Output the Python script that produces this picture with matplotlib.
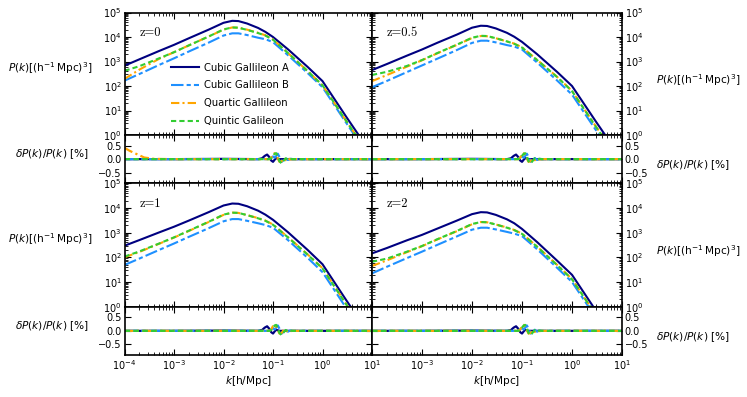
import matplotlib.pyplot as plt
import numpy as np

k = [1e-4, 2e-4, 5e-4, 1e-3, 2e-3, 5e-3, 1e-2, 1.5e-2, 2e-2, 3e-2, 5e-2, 7e-2,
     0.1, 0.2, 0.5, 1.0, 3.0, 10.0]

# log10 P(k) [(Mpc/h)^3] read in decades, one list per model and redshift
logP_A_z0 = [2.83, 3.09, 3.43, 3.68, 3.95, 4.30, 4.58, 4.66, 4.65, 4.55, 4.37, 4.21,
             4.00, 3.50, 2.78, 2.20, 0.75, -0.80]
logP_B_z0 = [2.22, 2.49, 2.86, 3.13, 3.41, 3.77, 4.06, 4.15, 4.15, 4.08, 3.97, 3.91,
             3.79, 3.26, 2.53, 1.95, 0.50, -1.05]
logP_Qa_z0 = [2.29, 2.67, 3.11, 3.38, 3.66, 4.02, 4.30, 4.39, 4.38, 4.30, 4.17, 4.07,
              3.90, 3.35, 2.61, 2.03, 0.58, -0.97]
logP_Qi_z0 = [2.62, 2.81, 3.13, 3.38, 3.66, 4.02, 4.31, 4.39, 4.38, 4.29, 4.16, 4.06,
              3.89, 3.35, 2.61, 2.03, 0.58, -0.97]

logP_A_z05 = [2.65, 2.90, 3.24, 3.49, 3.76, 4.10, 4.38, 4.46, 4.45, 4.35, 4.17, 4.01,
              3.80, 3.30, 2.58, 2.00, 0.55, -1.00]
logP_B_z05 = [1.95, 2.21, 2.57, 2.84, 3.11, 3.47, 3.76, 3.85, 3.85, 3.78, 3.67, 3.61,
              3.49, 2.96, 2.23, 1.65, 0.20, -1.35]
logP_Qa_z05 = [2.20, 2.45, 2.79, 3.05, 3.33, 3.68, 3.96, 4.04, 4.03, 3.95, 3.82, 3.73,
               3.58, 3.07, 2.38, 1.80, 0.35, -1.20]
logP_Qi_z05 = [2.45, 2.58, 2.82, 3.06, 3.34, 3.69, 3.97, 4.05, 4.04, 3.95, 3.82, 3.72,
               3.57, 3.06, 2.37, 1.79, 0.34, -1.21]

logP_A_z1 = [2.47, 2.70, 3.01, 3.24, 3.49, 3.83, 4.10, 4.18, 4.17, 4.07, 3.89, 3.73,
             3.52, 3.02, 2.30, 1.72, 0.27, -1.28]
logP_B_z1 = [1.69, 1.95, 2.30, 2.56, 2.83, 3.18, 3.46, 3.55, 3.55, 3.48, 3.38, 3.31,
             3.20, 2.70, 1.98, 1.40, -0.05, -1.60]
logP_Qa_z1 = [2.00, 2.22, 2.55, 2.80, 3.07, 3.43, 3.72, 3.81, 3.80, 3.71, 3.59, 3.49,
              3.33, 2.82, 2.12, 1.56, 0.11, -1.44]
logP_Qi_z1 = [2.03, 2.24, 2.56, 2.81, 3.08, 3.44, 3.73, 3.81, 3.80, 3.71, 3.58, 3.48,
              3.32, 2.81, 2.11, 1.55, 0.10, -1.45]

logP_A_z2 = [2.16, 2.38, 2.69, 2.91, 3.16, 3.49, 3.75, 3.83, 3.82, 3.72, 3.54, 3.38,
             3.15, 2.62, 1.87, 1.29, -0.16, -1.71]
logP_B_z2 = [1.35, 1.62, 1.97, 2.23, 2.50, 2.85, 3.12, 3.20, 3.20, 3.13, 3.03, 2.96,
             2.86, 2.33, 1.58, 1.00, -0.45, -2.00]
logP_Qa_z2 = [1.65, 1.88, 2.21, 2.45, 2.72, 3.06, 3.34, 3.43, 3.42, 3.33, 3.21, 3.11,
              2.96, 2.44, 1.70, 1.12, -0.33, -1.88]
logP_Qi_z2 = [1.82, 1.95, 2.23, 2.46, 2.73, 3.07, 3.35, 3.43, 3.42, 3.33, 3.20, 3.10,
              2.95, 2.43, 1.69, 1.11, -0.34, -1.89]

# relative differences [%]
res_k = [1e-4, 1.3e-4, 1.8e-4, 2.5e-4, 4e-4, 1e-3, 1e-2, 0.05, 0.06, 0.068, 0.076,
         0.084, 0.092, 0.1, 0.108, 0.116, 0.125, 0.135, 0.15, 0.165, 0.18, 0.2,
         0.22, 0.25, 1.0, 10.0]
dA = [0, 0, 0, 0, 0, 0, 0.01, 0, 0.03, 0.12, 0.17, 0.08, -0.05, -0.1, -0.02, 0.04,
      0.02, 0, 0, 0, 0, 0, 0, 0, 0, 0]
dB = [0, 0, 0, 0, 0, 0, 0, 0, 0, 0, 0, 0.02, 0.06, 0.1, 0.05, 0.12,
      0.2, 0.08, -0.1, -0.03, 0.04, -0.03, 0.01, 0, 0, 0]
dQa = [0, 0, 0, 0, 0, 0, 0, 0, 0, 0, 0, 0, 0.05, 0.18, 0.22, 0.15,
       0.02, -0.1, -0.08, 0.04, -0.04, 0.03, -0.01, 0, 0, 0]
dQa_z0 = [0.42, 0.3, 0.18, 0.06, 0.01, 0, 0, 0, 0, 0, 0, 0, 0.05, 0.18, 0.22, 0.15,
          0.02, -0.1, -0.08, 0.04, -0.04, 0.03, -0.01, 0, 0, 0]
dQi = [0, 0, 0, 0, 0, 0, 0, 0, 0, 0, 0, 0, 0.03, 0.12, 0.2, 0.22,
       0.1, -0.08, -0.16, -0.05, 0.03, -0.02, 0.01, 0, 0, 0]

labels = ['Cubic Gallileon A', 'Cubic Gallileon B', 'Quartic Gallileon', 'Quintic Galileon']
colors = ['#000080', '#1e90ff', '#ffa500', '#32cd32']
dashes = [None, (6, 1.5, 2, 1.5), (4, 1.5, 1, 1.5), (2.5, 1.5)]

xticks = [1e-4, 1e-3, 1e-2, 1e-1, 1e0, 1e1]
xtick_labels = [r'$10^{-4}$', r'$10^{-3}$', r'$10^{-2}$', r'$10^{-1}$', r'$10^{0}$', r'$10^{1}$']

fs = 7
lfs = 7.6

fig = plt.figure(figsize=(7.47, 3.97), dpi=100)

cols = [0.1667, 0.498]
widths = [0.3313, 0.3347]
rows = [(0.6599, 0.3086, 0.5383, 0.1217), (0.2275, 0.3108, 0.1058, 0.1217)]

panels = [
    ('z=0', [logP_A_z0, logP_B_z0, logP_Qa_z0, logP_Qi_z0], [dA, dB, dQa_z0, dQi], 0, 0),
    ('z=0.5', [logP_A_z05, logP_B_z05, logP_Qa_z05, logP_Qi_z05], [dA, dB, dQa, dQi], 0, 1),
    ('z=1', [logP_A_z1, logP_B_z1, logP_Qa_z1, logP_Qi_z1], [dA, dB, dQa, dQi], 1, 0),
    ('z=2', [logP_A_z2, logP_B_z2, logP_Qa_z2, logP_Qi_z2], [dA, dB, dQa, dQi], 1, 1),
]

for ztxt, spectra, resid, r, c in panels:
    mb, mh, rb, rh = rows[r]
    ax = fig.add_axes([cols[c], mb, widths[c], mh])
    axr = fig.add_axes([cols[c], rb, widths[c], rh])

    for lp, d, lab, col, ds in zip(spectra, resid, labels, colors, dashes):
        line, = ax.plot(k, np.power(10.0, lp), color=col, lw=1.5, label=lab)
        rline, = axr.plot(res_k, d, color=col, lw=1.6)
        if ds is not None:
            line.set_dashes(ds)
            rline.set_dashes(ds)

    ax.set_xscale('log')
    ax.set_yscale('log')
    axr.set_xscale('log')
    ax.set_xlim(1e-4, 1e1)
    axr.set_xlim(1e-4, 1e1)
    ax.set_ylim(1, 1e5)
    axr.set_ylim(-0.9, 0.9)
    ax.set_yticks([1, 1e1, 1e2, 1e3, 1e4, 1e5])
    axr.set_yticks([-0.5, 0.0, 0.5])
    ax.set_xticks(xticks)
    axr.set_xticks(xticks)
    ax.set_xticklabels([])
    if r == 1:
        if c == 1:
            axr.set_xticklabels([''] + xtick_labels[1:])
        else:
            axr.set_xticklabels(xtick_labels)
        axr.set_xlabel(r'$k[\mathrm{h/Mpc}]$', fontsize=lfs, labelpad=2)
    else:
        axr.set_xticklabels([])

    for a in (ax, axr):
        a.tick_params(which='both', direction='in', top=True, right=True,
                      labelsize=fs, pad=2)
        a.tick_params(which='major', length=4.5, width=0.8)
        a.tick_params(which='minor', length=2.5, width=0.6)
        for s in a.spines.values():
            s.set_linewidth(1.2)
        if c == 1:
            a.tick_params(labelleft=False, labelright=True)

    ylab = r'$P(k)[(\mathrm{h^{-1}\,Mpc})^3]$'
    rlab = r'$\delta P(k)/P(k)\ [\%]$'
    if c == 0:
        ax.set_ylabel(ylab, fontsize=lfs, rotation=0, ha='right', va='center')
        ax.yaxis.set_label_coords(-0.131, 0.55)
        axr.set_ylabel(rlab, fontsize=lfs, rotation=0, ha='right', va='center')
        axr.yaxis.set_label_coords(-0.143, 0.60)
    else:
        ax.yaxis.set_label_position('right')
        axr.yaxis.set_label_position('right')
        ax.set_ylabel(ylab, fontsize=lfs, rotation=0, ha='left', va='center')
        ax.yaxis.set_label_coords(1.136, 0.45)
        axr.set_ylabel(rlab, fontsize=lfs, rotation=0, ha='left', va='center')
        axr.yaxis.set_label_coords(1.136, 0.37)

    ax.text(0.06, 0.83, ztxt, transform=ax.transAxes, fontsize=9,
            family='cmr10', va='center')

    if r == 0 and c == 0:
        ax.legend(loc='lower left', bbox_to_anchor=(0.15, 0.0), frameon=False,
                  fontsize=7.2, handlelength=2.8, handletextpad=0.5,
                  labelspacing=0.78)

fig.savefig('out.png', dpi=100)
